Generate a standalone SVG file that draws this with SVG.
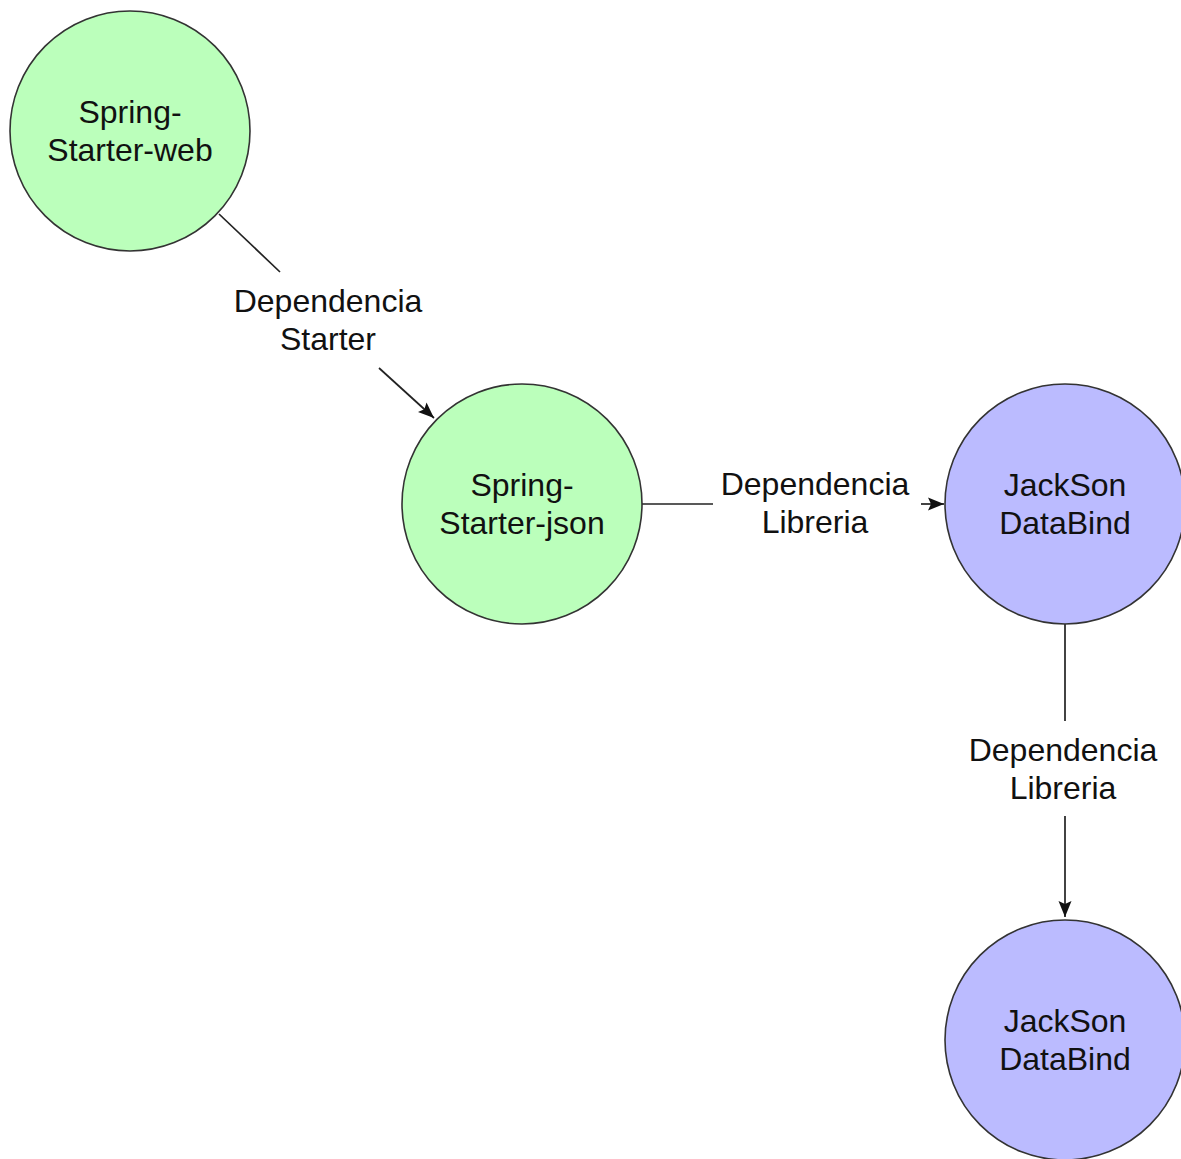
<svg xmlns="http://www.w3.org/2000/svg" width="1181" height="1159" viewBox="0 0 1181 1159">
<style>
.node-g{fill:#bbffbb;stroke:#333;stroke-width:1.6}
.node-p{fill:#bbbbff;stroke:#333;stroke-width:1.6}
.lbl{font-family:"Liberation Sans",Arial,sans-serif;font-size:32px;fill:#111;text-anchor:middle}
.edge{fill:none;stroke:#222;stroke-width:1.7}
</style>
<defs>
<marker id="arr" markerUnits="userSpaceOnUse" markerWidth="18" markerHeight="14" refX="16" refY="7" orient="auto">
<path d="M0,0.5 L16,7 L0,13.5 L3,7 z" fill="#111"/>
</marker>
</defs>
<rect width="1181" height="1159" fill="#fff"/>
<g id="connectors">
<path class="edge" d="M219,214 L280,272"/>
<path class="edge" d="M379,368 L434,418" marker-end="url(#arr)"/>
<text class="lbl" x="328" y="312">Dependencia</text>
<text class="lbl" x="328" y="350">Starter</text>
<path class="edge" d="M642,504 L713,504"/>
<path class="edge" d="M921,504 L944,504" marker-end="url(#arr)"/>
<text class="lbl" x="815" y="495">Dependencia</text>
<text class="lbl" x="815" y="533">Libreria</text>
<path class="edge" d="M1065,624 L1065,721"/>
<path class="edge" d="M1065,816 L1065,917" marker-end="url(#arr)"/>
<text class="lbl" x="1063" y="761">Dependencia</text>
<text class="lbl" x="1063" y="799">Libreria</text>
</g>
<g id="spring-starter-web">
<circle class="node-g" cx="130" cy="131" r="120"/>
<text class="lbl" x="130" y="123">Spring-</text>
<text class="lbl" x="130" y="161">Starter-web</text>
</g>
<g id="spring-starter-json">
<circle class="node-g" cx="522" cy="504" r="120"/>
<text class="lbl" x="522" y="496">Spring-</text>
<text class="lbl" x="522" y="534">Starter-json</text>
</g>
<g id="jackson-databind-1">
<circle class="node-p" cx="1065" cy="504" r="120"/>
<text class="lbl" x="1065" y="496">JackSon</text>
<text class="lbl" x="1065" y="534">DataBind</text>
</g>
<g id="jackson-databind-2">
<circle class="node-p" cx="1065" cy="1040" r="120"/>
<text class="lbl" x="1065" y="1032">JackSon</text>
<text class="lbl" x="1065" y="1070">DataBind</text>
</g>
</svg>
